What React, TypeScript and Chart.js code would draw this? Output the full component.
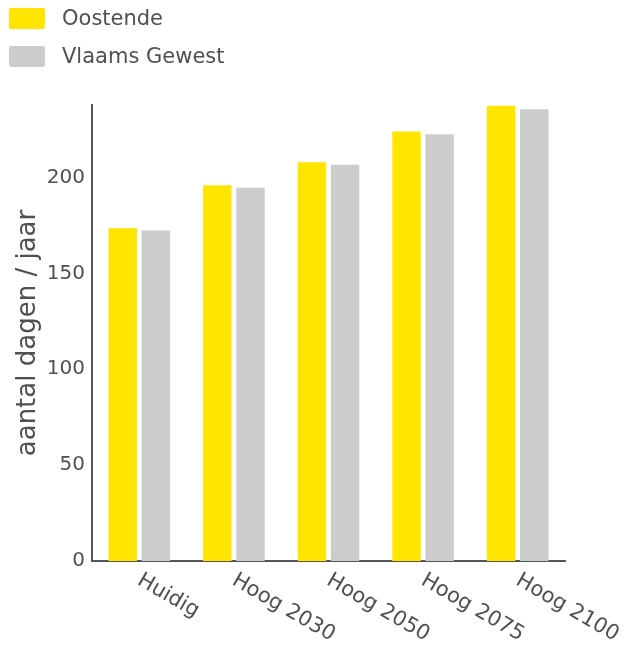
import React, { useEffect, useRef } from "react";
import { Chart, registerables } from "chart.js";

Chart.register(...registerables);

const categories = ["Huidig", "Hoog 2030", "Hoog 2050", "Hoog 2075", "Hoog 2100"];
const oostende = [173.5, 196, 208, 224, 237.4];
const vlaamsGewest = [172.3, 194.7, 206.7, 222.5, 235.6];
const seriesNames = ["Oostende", "Vlaams Gewest"];
const seriesColors = ["#FFE500", "#CCCCCC"];
const yTitle = "aantal dagen / jaar";
const yTickStep = 50;

const FONT = "'DejaVu Sans', Verdana, sans-serif";
const TEXT = "#505050";

const legendPlugin = {
  id: "stackedLegend",
  afterDraw(chart: any) {
    const ctx = chart.ctx;
    ctx.save();
    ctx.font = `21px ${FONT}`;
    ctx.textBaseline = "middle";
    ctx.textAlign = "left";
    chart.data.datasets.forEach((ds: any, i: number) => {
      const top = 8 + i * 38;
      ctx.fillStyle = ds.backgroundColor;
      ctx.beginPath();
      (ctx as any).roundRect(9, top, 36, 21, 2);
      ctx.fill();
      ctx.fillStyle = TEXT;
      ctx.fillText(ds.label, 62, top + 12);
    });
    ctx.restore();
  },
};

const xLabelPlugin = {
  id: "rotatedXLabels",
  afterDraw(chart: any) {
    const ctx = chart.ctx;
    const xs = chart.scales.x;
    ctx.save();
    ctx.font = `21px ${FONT}`;
    ctx.fillStyle = TEXT;
    ctx.textAlign = "left";
    ctx.textBaseline = "top";
    (chart.data.labels as string[]).forEach((lab, i) => {
      const x = xs.getPixelForTick(i) + 5;
      const y = xs.top + 9;
      ctx.save();
      ctx.translate(x, y);
      ctx.rotate((30 * Math.PI) / 180);
      ctx.fillText(lab, 0, 0);
      ctx.restore();
    });
    ctx.restore();
  },
};

export default function App() {
  const ref = useRef<HTMLCanvasElement | null>(null);
  useEffect(() => {
    if (!ref.current) return;
    const chart = new Chart(ref.current, {
      type: "bar",
      data: {
        labels: categories,
        datasets: [
          { label: seriesNames[0], data: oostende, backgroundColor: seriesColors[0], borderWidth: 0 },
          { label: seriesNames[1], data: vlaamsGewest, backgroundColor: seriesColors[1], borderWidth: 0 },
        ],
      },
      options: {
        responsive: false,
        animation: false,
        maintainAspectRatio: false,
        layout: { padding: { top: 105, right: 59, left: 0, bottom: 0 } },
        datasets: { bar: { categoryPercentage: 0.7, barPercentage: 0.86 } },
        plugins: { legend: { display: false }, tooltip: { enabled: false } },
        scales: {
          x: {
            grid: { display: false, drawTicks: false },
            border: { display: true, color: "#555555", width: 2 },
            ticks: { display: false },
            afterFit: (s: any) => {
              s.height = 87;
            },
          },
          y: {
            min: 0,
            max: 237.8,
            grid: { display: false, drawTicks: false },
            border: { display: true, color: "#555555", width: 2 },
            ticks: { stepSize: yTickStep, color: TEXT, font: { family: FONT, size: 20 }, padding: 7 },
            afterBuildTicks: (s: any) => {
              s.ticks = s.ticks.filter((t: any) => t.value % yTickStep === 0);
            },
            title: {
              display: true,
              text: yTitle,
              color: TEXT,
              font: { family: FONT, size: 26 },
              padding: { top: 13, bottom: 4 },
            },
            afterFit: (s: any) => {
              s.width = 92;
            },
          },
        },
      },
      plugins: [legendPlugin, xLabelPlugin],
    });
    return () => chart.destroy();
  }, []);
  return (
    <div style={{ position: "absolute", left: 0, top: 0, width: 624, height: 648, background: "#fff" }}>
      <canvas ref={ref} width={624} height={648} style={{ display: "block" }} />
    </div>
  );
}
